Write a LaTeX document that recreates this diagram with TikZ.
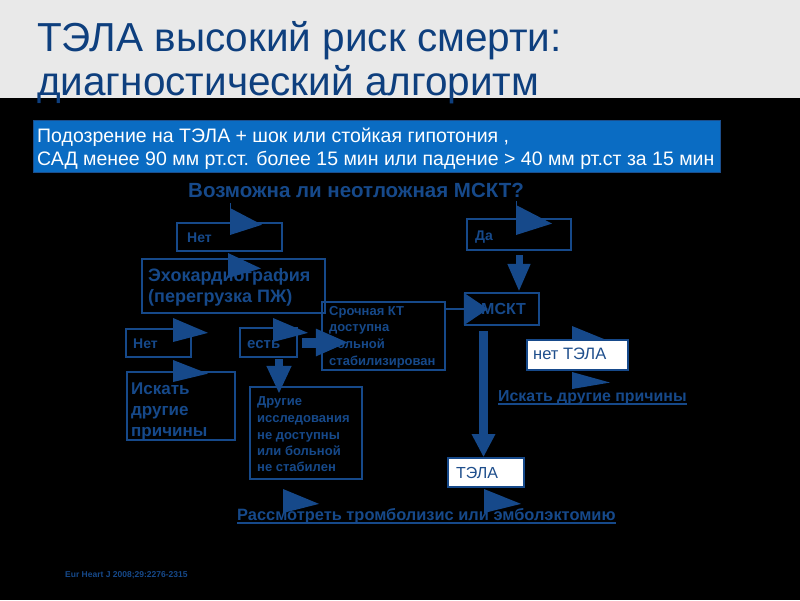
\documentclass[tikz,border=0pt]{standalone}
\usepackage{fontspec}
\setmainfont{Liberation Sans}
\usetikzlibrary{arrows.meta,calc}
\definecolor{headgray}{HTML}{E9E9E9}
\definecolor{titleblue}{HTML}{0E3F7E}
\definecolor{bannerblue}{HTML}{0A6CC3}
\definecolor{bannerline}{HTML}{1B4E8C}
\definecolor{fblue}{HTML}{16498A}
\definecolor{wtext}{HTML}{1E4E8C}
\newcommand\pennant[4]{\fill[fblue] ({#1},{#2}) -- ({#1},{#2+#3}) -- ({#1+#4},{#2+0.62*#3}) -- cycle;}
\tikzset{
  fbox/.style={draw=fblue, line width=2.2pt, inner sep=0pt},
  wbox/.style={draw=fblue, fill=white, line width=1.6pt, inner sep=0pt},
  ftext/.style={text=fblue, font=\bfseries\fontsize{#1}{#1}\selectfont, anchor=base west, inner sep=0pt},
  ftext/.default=13,
  wlabel/.style={text=wtext, font=\fontsize{#1}{#1}\selectfont, anchor=base west, inner sep=0pt},
  fat/.style={draw=fblue, line width=8pt, -{Triangle[width=24pt,length=28pt]}},
  uline/.style={draw=fblue, line width=1.6pt},
}
\begin{document}
\begin{tikzpicture}[x=1pt,y=-1pt]
\useasboundingbox (0,0) rectangle (800,600);
\fill[headgray] (0,0) rectangle (800,98);
\fill[black] (0,98) rectangle (800,600);
% title
\node[anchor=base west, inner sep=0pt, text=titleblue, font=\fontsize{40.5}{46}\selectfont] (title1) at (37,51) {ТЭЛА высокий риск смерти:};
\node[anchor=base west, inner sep=0pt, text=titleblue, font=\fontsize{40.5}{46}\selectfont] (title2) at (37,95) {диагностический алгоритм};
% banner
\node[draw=bannerline, fill=bannerblue, line width=1pt, minimum width=687pt, minimum height=52pt, inner sep=0pt] (banner) at (376.5,146) {};
\node[anchor=base west, inner sep=0pt, text=white, font=\fontsize{19.5}{21}\selectfont] (ban1) at (37,142) {Подозрение на ТЭЛА + шок или стойкая гипотония ,};
\node[anchor=base west, inner sep=0pt, text=white, font=\fontsize{19.5}{21}\selectfont] (ban2) at (37,165) {САД менее 90 мм рт.ст. более 15 мин или падение > 40 мм рт.ст за 15 мин};
% question
\node[ftext=20.5] (q) at (188,197) {Возможна ли неотложная МСКТ?};
% boxes
\node[fbox, minimum width=105pt, minimum height=28pt] (no1) at (229.5,237) {};
\node[fbox, minimum width=104pt, minimum height=31pt] (yes1) at (519,234.5) {};
\node[fbox, minimum width=183pt, minimum height=54pt] (echo) at (233.5,286) {};
\node[fbox, minimum width=65pt, minimum height=28pt] (no2) at (158.5,343) {};
\node[fbox, minimum width=57pt, minimum height=29pt] (est) at (268.5,342.5) {};
\node[fbox, minimum width=108pt, minimum height=68pt] (other1) at (181,406) {};
\node[fbox, minimum width=123pt, minimum height=68pt] (srochn) at (383.5,336) {};
\node[fbox, minimum width=112pt, minimum height=92pt] (other2) at (306,433) {};
\node[fbox, minimum width=74pt, minimum height=32pt] (msct) at (502,309) {};
% box texts
\node[ftext=14] (no1t) at (187,242) {Нет};
\node[ftext=14] (yes1t) at (475,240) {Да};
\node[ftext=18] (echot1) at (148,281) {Эхокардиография};
\node[ftext=18] (echot2) at (148,302) {(перегрузка ПЖ)};
\node[ftext=14] (no2t) at (133,348) {Нет};
\node[ftext=15] (estt) at (247,348) {есть};
\node[ftext=17] (oth1a) at (131,394) {Искать};
\node[ftext=17] (oth1b) at (131,415) {другие};
\node[ftext=17] (oth1c) at (131,436) {причины};
\node[ftext=13] (sr1) at (329,315) {Срочная КТ};
\node[ftext=13] (sr2) at (329,331) {доступна};
\node[ftext=13] (sr3) at (329,348) {больной};
\node[ftext=13] (sr4) at (329,365) {стабилизирован};
\node[ftext=13] (ot2a) at (257,405) {Другие};
\node[ftext=13] (ot2b) at (257,422) {исследования};
\node[ftext=13] (ot2c) at (257,439) {не доступны};
\node[ftext=13] (ot2d) at (257,455) {или больной};
\node[ftext=13] (ot2e) at (257,471) {не стабилен};
\node[ftext=16] (msctt) at (481,314) {МСКТ};
% pennants
\draw[fblue, line width=1pt] (230,203) -- (230,209);
\pennant{230}{208}{27}{32}
\pennant{228}{253}{25}{33}
\draw[fblue, line width=1pt] (516,201) -- (516,206);
\pennant{516}{205}{30}{36}
\pennant{173}{318}{24}{35}
\pennant{173}{360}{22}{35}
\pennant{273}{318}{24}{35}
\pennant{572}{326}{25}{38}
\pennant{572}{372}{17}{38}
\pennant{283}{489}{24}{36}
\pennant{484}{489}{24}{37}
% white boxes
\node[wbox, minimum width=101pt, minimum height=30pt] (noPE) at (577.5,355) {};
\node[wlabel=16.5] (noPEt) at (533,359.5) {нет ТЭЛА};
\node[wbox, minimum width=76pt, minimum height=29pt] (PE) at (486,472.5) {};
\node[wlabel=16] (PEt) at (456,478.5) {ТЭЛА};
% connector end points
\coordinate (c1) at ($(yes1.south)+(0,4)$);
\coordinate (c2) at ($(msct.south)+(-18.5,5)$);
\coordinate (c3) at ($(est.south)+(10.5,1)$);
\coordinate (c4) at ($(est.east)+(4,0)$);
% connectors
\draw[fat, line width=7pt, -{Triangle[width=21pt,length=28pt]}] (c1) -- (c1 |- msct.north);
\draw[fat, line width=9pt, -{Triangle[width=22pt,length=23pt]}] (c2) -- (c2 |- PE.north);
\draw[fat, line width=8pt, -{Triangle[width=23pt,length=28pt]}, shorten >=-8pt] (c3) -- (c3 |- other2.north);
\draw[fat, line width=10pt, -{Triangle[width=25pt,length=33pt]}, shorten >=-28pt] (c4) -- (c4 -| srochn.west);
\draw[draw=fblue, line width=2pt, -{Triangle[width=32pt,length=24pt]}, shorten >=-24pt] (srochn.east |- msct.west) -- (msct.west);
% outcome texts
\node[ftext=15.9] (search2) at (498,401) {Искать другие причины};
\draw[uline] ($(search2.base west)+(0,3)$) -- ($(search2.base east)+(0,3)$);
\node[ftext=16.4] (lysis) at (237,520) {Рассмотреть тромболизис или эмболэктомию};
\draw[uline] ($(lysis.base west)+(0,3)$) -- ($(lysis.base east)+(0,3)$);
\node[ftext=8.5] (ref) at (65,577) {Eur Heart J 2008;29:2276-2315};
\end{tikzpicture}
\end{document}
